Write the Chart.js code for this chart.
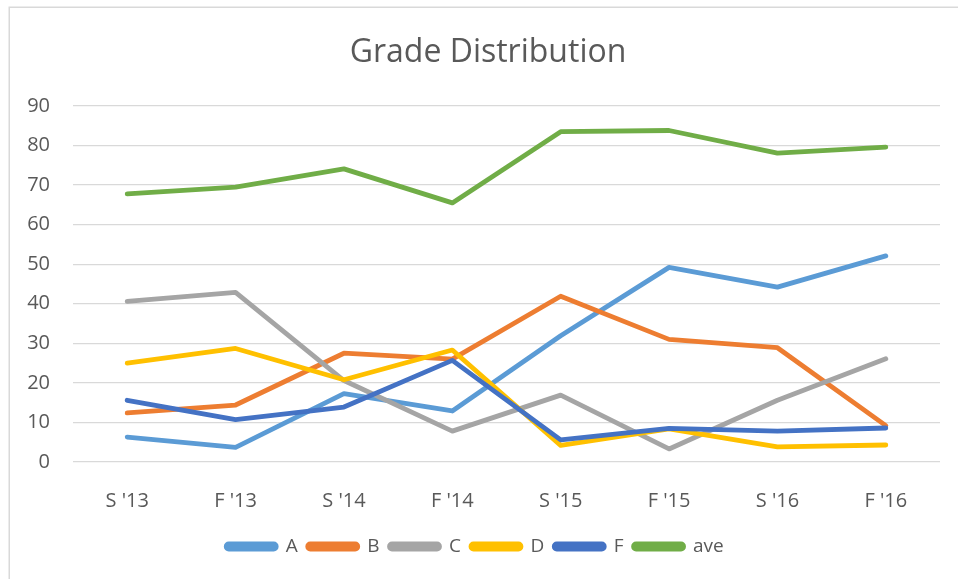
<!DOCTYPE html>
<html>
<head>
<meta charset="utf-8">
<script src="https://cdn.jsdelivr.net/npm/chart.js@4/dist/chart.umd.min.js"></script>
<style>
  html, body { margin: 0; padding: 0; background: #fff; }
  #wrap { width: 958px; height: 579px; }
</style>
</head>
<body>
<div id="wrap"><canvas id="grade-chart" width="958" height="579"></canvas></div>
<script>
const terms = ["S '13", "F '13", "S '14", "F '14", "S '15", "F '15", "S '16", "F '16"];
const gradeA = [6.3, 3.7, 17.3, 12.9, 31.9, 49.2, 44.2, 52.1];
const gradeB = [12.4, 14.4, 27.5, 26.0, 41.9, 31.0, 28.9, 9.2];
const gradeC = [40.6, 42.9, 20.6, 7.8, 16.9, 3.3, 15.6, 26.1];
const gradeD = [25.0, 28.7, 20.8, 28.3, 4.2, 8.4, 3.8, 4.3];
const gradeF = [15.6, 10.7, 13.9, 25.7, 5.6, 8.5, 7.8, 8.6];
const average = [67.8, 69.5, 74.1, 65.5, 83.5, 83.8, 78.1, 79.6];

const textColor = '#595959';
const gridColor = '#d9d9d9';

function line(label, data, color, order) {
    return {
        label: label,
        data: data,
        borderColor: color,
        backgroundColor: color,
        borderWidth: 4.8,
        borderCapStyle: 'round',
        borderJoinStyle: 'round',
        pointRadius: 0,
        tension: 0,
        order: order
    };
}

// white background and the thin frame around the chart
const framePlugin = {
    id: 'frame',
    beforeDraw(chart) {
        const ctx = chart.ctx;
        ctx.save();
        ctx.fillStyle = '#fff';
        ctx.fillRect(0, 0, chart.width, chart.height);
        ctx.strokeStyle = gridColor;
        ctx.lineWidth = 1.5;
        ctx.strokeRect(9.25, 7.25, chart.width + 10, chart.height + 10);
        ctx.restore();
    },
    // the original title is centred on the frame, a little right of the canvas middle
    afterLayout(chart) {
        if (chart.titleBlock) chart.titleBlock.left += 26;
    }
};

const gradeChart = new Chart(document.getElementById('grade-chart'), {
    type: 'line',
    data: {
        labels: terms,
        datasets: [
            line('A', gradeA, '#5B9BD5', 6),
            line('B', gradeB, '#ED7D31', 5),
            line('C', gradeC, '#A5A5A5', 4),
            line('D', gradeD, '#FFC000', 3),
            line('F', gradeF, '#4472C4', 2),
            line('ave', average, '#70AD47', 1)
        ]
    },
    options: {
        responsive: false,
        animation: false,
        layout: {
            padding: { left: 10, right: 18, top: 12, bottom: 13 }
        },
        plugins: {
            title: {
                display: true,
                text: 'Grade Distribution',
                color: textColor,
                font: { family: 'Open Sans', size: 32, weight: 'normal', lineHeight: 1.2 },
                padding: { top: 21.8, bottom: 33.8 }
            },
            legend: {
                position: 'bottom',
                labels: {
                    color: textColor,
                    font: { family: 'Open Sans', size: 19 },
                    boxWidth: 50,
                    boxHeight: 5,
                    useBorderRadius: true,
                    borderRadius: 2.5,
                    padding: 10,
                    sort: (a, b) => a.datasetIndex - b.datasetIndex
                }
            },
            tooltip: { enabled: false }
        },
        scales: {
            x: {
                offset: true,
                grid: { display: false },
                border: { display: false },
                ticks: {
                    color: textColor,
                    font: { family: 'Open Sans', size: 20 },
                    padding: 19,
                    maxRotation: 0
                },
                afterFit(scale) { scale.height = 65; }
            },
            y: {
                min: 0,
                max: 90,
                grid: { color: gridColor, lineWidth: 1.3, drawTicks: false },
                border: { display: false },
                ticks: {
                    stepSize: 10,
                    color: textColor,
                    font: { family: 'Open Sans', size: 20 },
                    padding: 23
                },
                afterFit(scale) { scale.width = 63; }
            }
        }
    },
    plugins: [framePlugin]
});
</script>
</body>
</html>
